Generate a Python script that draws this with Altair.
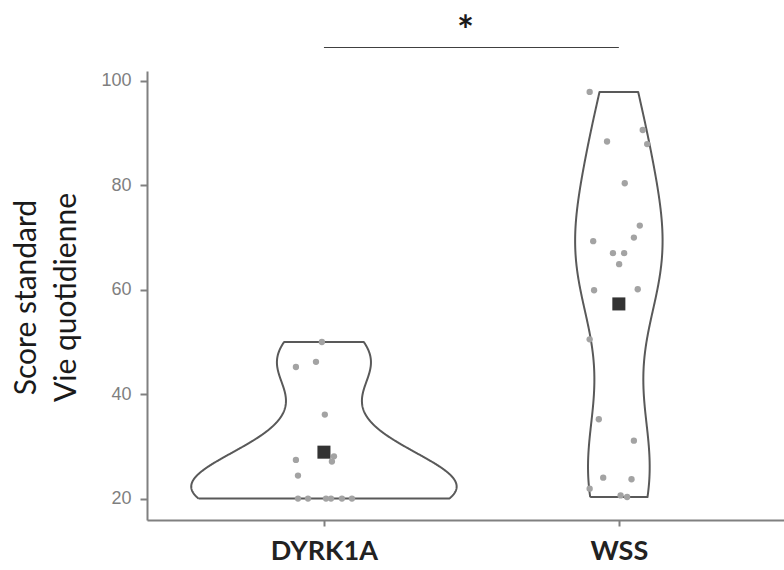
import json

import altair as alt
import numpy as np
import pandas as pd

# Groups and their positions on the x axis
groups = ["DYRK1A", "WSS"]
group_pos = [1, 2]

# Individual standard scores (daily living) and their horizontal jitter
dyrk1a_scores = [50.0, 45.2, 46.2, 36.1, 28.1, 27.1, 27.4, 24.4,
                 20.0, 20.0, 20.0, 20.0, 20.0, 20.0]
dyrk1a_jitter = [-0.007, -0.095, -0.027, 0.003, 0.034, 0.027, -0.095, -0.088,
                 -0.088, -0.054, 0.007, 0.024, 0.061, 0.095]

wss_scores = [97.9, 90.6, 87.9, 88.4, 80.4, 72.3, 70.0, 69.3, 67.0, 67.0,
              64.9, 59.9, 60.1, 50.5, 35.2, 31.1, 24.0, 23.7, 21.9, 20.6, 20.3]
wss_jitter = [-0.099, 0.081, 0.096, -0.040, 0.020, 0.071, 0.051, -0.087, -0.020, 0.018,
              0.001, -0.084, 0.064, -0.099, -0.068, 0.051, -0.053, 0.043, -0.099, 0.006, 0.028]

y_ticks = [20, 40, 60, 80, 100]
y_domain = [15.9, 101.9]
x_domain = [0.4, 2.56]

# Significance bracket between the two groups
sig_from, sig_to = groups
sig_level = 106.4
sig_label = "*"

all_scores = [dyrk1a_scores, wss_scores]
all_jitter = [dyrk1a_jitter, wss_jitter]


def bw_nrd0(values):
    v = np.asarray(values, dtype=float)
    sd = v.std(ddof=1)
    q75, q25 = np.percentile(v, [75, 25])
    spread = min(sd, (q75 - q25) / 1.34)
    return 0.9 * spread * len(v) ** -0.2


def kde(values, grid):
    v = np.asarray(values, dtype=float)
    h = bw_nrd0(v)
    z = (grid[:, None] - v[None, :]) / h
    return np.exp(-0.5 * z ** 2).sum(axis=1) / (len(v) * h * np.sqrt(2 * np.pi))


# Violin outlines: Gaussian KDE trimmed to each group's range,
# widths scaled by area so the widest violin spans 0.9 units
curves = []
for name, pos, scores in zip(groups, group_pos, all_scores):
    grid = np.linspace(min(scores), max(scores), 256)
    curves.append((name, pos, grid, kde(scores, grid)))
peak = max(c[3].max() for c in curves)

# Each outline is a closed path: up the left side, down the right side, back to start
outline_rows = []
for name, pos, grid, dens in curves:
    half = 0.45 * dens / peak
    path = [(s, pos - w) for s, w in zip(grid, half)]
    path += [(s, pos + w) for s, w in zip(grid[::-1], half[::-1])]
    path.append(path[0])
    for step, (s, xv) in enumerate(path):
        outline_rows.append({"group": name, "step": step, "score": s, "xv": xv})
outline_df = pd.DataFrame(outline_rows)

point_rows = []
for name, pos, scores, jit in zip(groups, group_pos, all_scores, all_jitter):
    for s, j in zip(scores, jit):
        point_rows.append({"group": name, "pos": pos, "xpos": pos + j, "score": s})
points_df = pd.DataFrame(point_rows)

sig_df = pd.DataFrame([{
    "x1": group_pos[groups.index(sig_from)],
    "x2": group_pos[groups.index(sig_to)],
    "level": sig_level,
    "label": sig_label,
}])

x_scale = alt.Scale(domain=x_domain, nice=False, zero=False)
y_scale = alt.Scale(domain=y_domain, nice=False, zero=False)

axis_grey = "#808080"
label_expr = json.dumps(groups) + "[datum.value - 1]"

x_axis = alt.Axis(
    values=group_pos, labelExpr=label_expr, title=None, grid=False,
    labelFont="Lato", labelFontWeight="bold", labelFontSize=27, labelColor="#222222",
    labelPadding=12, tickSize=6, tickWidth=2, tickColor=axis_grey,
    domainColor=axis_grey, domainWidth=2,
)
y_axis = alt.Axis(
    values=y_ticks, grid=False,
    title=["Score standard", "Vie quotidienne"],
    titleFont="Lato", titleFontSize=30, titleFontWeight="normal", titleColor="#1a1a1a",
    titleAngle=270, titleAlign="center", titleBaseline="middle",
    titleLineHeight=40, titleX=-121, titleY=226,
    labelFont="Liberation Sans", labelFontSize=18, labelColor="#7f7f7f",
    labelPadding=9, tickSize=7, tickWidth=2, tickColor=axis_grey,
    domainColor=axis_grey, domainWidth=2,
)

violins = alt.Chart(outline_df).mark_line(
    color="#595959", strokeWidth=2, strokeJoin="round"
).encode(
    y=alt.Y("score:Q", scale=y_scale, axis=y_axis),
    x=alt.X("xv:Q", scale=x_scale, axis=x_axis),
    detail="group:N",
    order=alt.Order("step:Q"),
)

points = alt.Chart(points_df).mark_circle(size=40, color="#a3a3a3", opacity=1).encode(
    x=alt.X("xpos:Q", scale=x_scale),
    y=alt.Y("score:Q", scale=y_scale),
)

means = alt.Chart(points_df).transform_aggregate(
    mean_score="mean(score)", groupby=["group", "pos"]
).mark_square(size=170, color="#333333", opacity=1).encode(
    x=alt.X("pos:Q", scale=x_scale),
    y=alt.Y("mean_score:Q", scale=y_scale),
)

bracket = alt.Chart(sig_df).mark_rule(color="#404040", strokeWidth=1.2).encode(
    x=alt.X("x1:Q", scale=x_scale),
    x2="x2:Q",
    y=alt.Y("level:Q", scale=y_scale),
)

stars = alt.Chart(sig_df).transform_calculate(
    mid="(datum.x1 + datum.x2) / 2"
).mark_text(
    font="Lato", fontSize=40, fontWeight="bold", color="#1a1a1a",
    baseline="alphabetic", dy=-3, dx=-6,
).encode(
    x=alt.X("mid:Q", scale=x_scale),
    y=alt.Y("level:Q", scale=y_scale),
    text="label:N",
)

chart = alt.layer(violins, points, means, bracket, stars).properties(
    width=637,
    height=449,
    autosize=alt.AutoSizeParams(type="none"),
    padding={"left": 147, "top": 71, "right": 0, "bottom": 50},
    background="white",
).configure_view(strokeWidth=0)

chart.save("out.html", embed_options={"renderer": "svg", "actions": False})
